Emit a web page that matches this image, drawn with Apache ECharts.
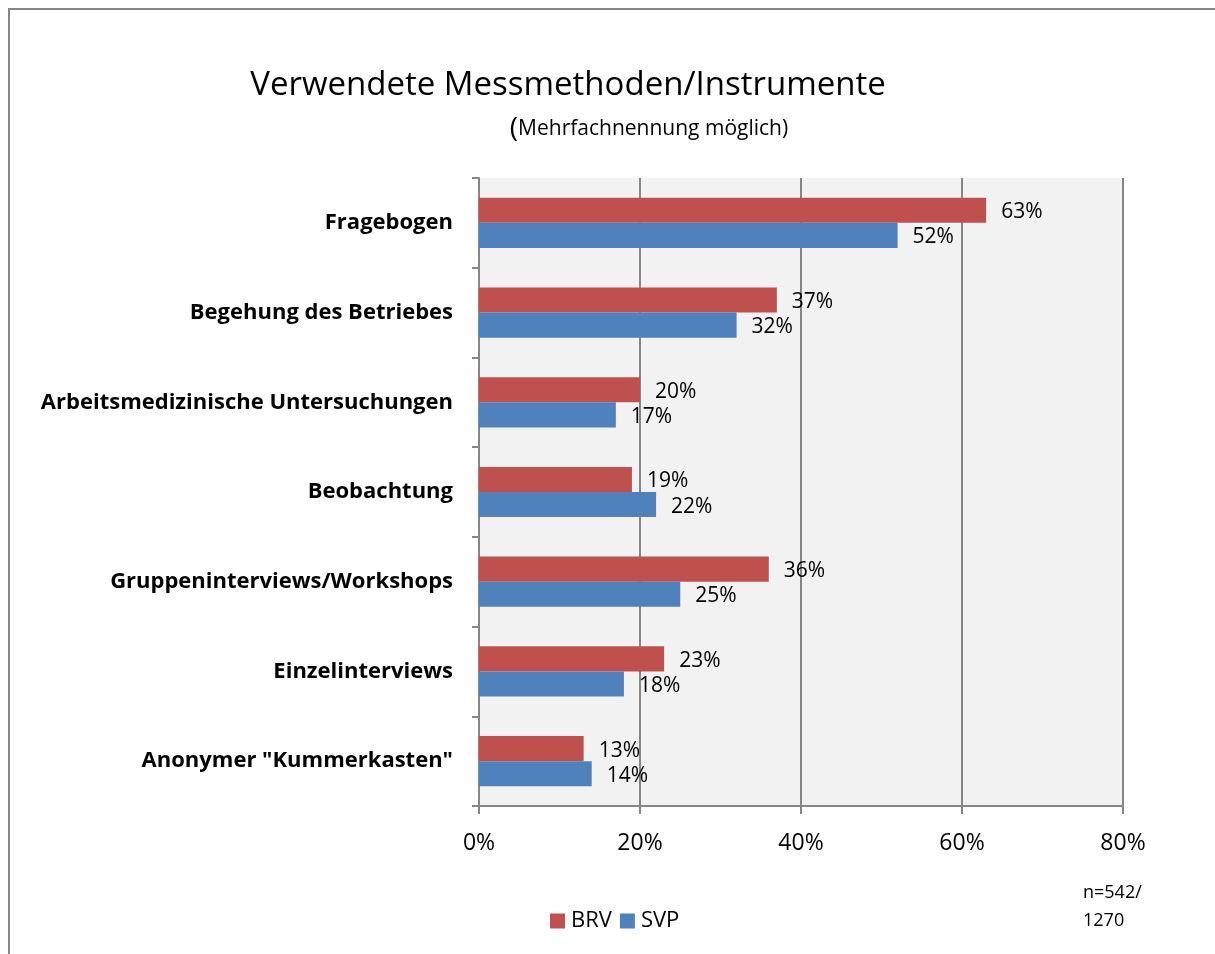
<!DOCTYPE html>
<html>
<head>
<meta charset="utf-8">
<script src="https://cdn.jsdelivr.net/npm/echarts@6/dist/echarts.min.js"></script>
<style>
  html, body { margin: 0; padding: 0; background: #fff; }
  #chart { width: 1215px; height: 954px; }
</style>
</head>
<body>
<div id="chart"></div>
<script>
// Messmethoden, Werte in %
const categories = [
    'Fragebogen',
    'Begehung des Betriebes',
    'Arbeitsmedizinische Untersuchungen',
    'Beobachtung',
    'Gruppeninterviews/Workshops',
    'Einzelinterviews',
    'Anonymer "Kummerkasten"'
];
const brvValues = [63, 37, 20, 19, 36, 23, 13];
const svpValues = [52, 32, 17, 22, 25, 18, 14];
const seriesNames = ['BRV', 'SVP'];

const font = 'Open Sans';
const chart = echarts.init(document.getElementById('chart'));

chart.setOption({
    animation: false,
    textStyle: { fontFamily: font },
    title: [
        {
            text: 'Verwendete Messmethoden/Instrumente',
            left: 563,
            textAlign: 'center',
            top: 64,
            textStyle: { fontSize: 33, fontWeight: 'normal', color: '#000', fontFamily: font }
        },
        {
            text: '{p|(}Mehrfachnennung möglich)',
            left: 644,
            textAlign: 'center',
            top: 110,
            textStyle: {
                fontSize: 21, fontWeight: 'normal', color: '#000', fontFamily: font,
                rich: { p: { fontSize: 28, fontFamily: font, color: '#000' } }
            }
        }
    ],
    legend: {
        data: seriesNames,
        left: 545,
        top: 905,
        itemWidth: 15,
        itemHeight: 15,
        itemGap: 8,
        icon: 'rect',
        textStyle: { fontSize: 22, color: '#000', padding: [0, 0, 0, 1] }
    },
    grid: {
        left: 479,
        right: 92,
        top: 178,
        bottom: 148,
        show: true,
        backgroundColor: '#F2F2F2',
        borderWidth: 0
    },
    xAxis: {
        type: 'value',
        min: 0,
        max: 80,
        interval: 20,
        axisLine: { show: true, lineStyle: { color: '#868686', width: 2 } },
        axisTick: { show: true, length: 8, lineStyle: { color: '#868686', width: 2 } },
        axisLabel: { formatter: '{value}%', fontSize: 23, color: '#000', margin: 26 },
        splitLine: { show: true, lineStyle: { color: '#868686', width: 2 } }
    },
    yAxis: {
        type: 'category',
        data: categories,
        inverse: true,
        axisLine: { show: true, lineStyle: { color: '#868686', width: 2 } },
        axisTick: { show: true, length: 7, lineStyle: { color: '#868686', width: 2 } },
        axisLabel: { fontSize: 22, fontWeight: 'bold', color: '#000', margin: 26 }
    },
    series: [
        {
            name: seriesNames[0],
            type: 'bar',
            data: brvValues,
            barGap: '0%',
            barCategoryGap: '44%',
            itemStyle: { color: '#C0504D' },
            label: { show: true, position: 'right', distance: 15, offset: [0, 2], formatter: '{c}%', fontSize: 21, color: '#000' }
        },
        {
            name: seriesNames[1],
            type: 'bar',
            data: svpValues,
            barGap: '0%',
            barCategoryGap: '44%',
            itemStyle: { color: '#4F81BD' },
            label: { show: true, position: 'right', distance: 15, offset: [0, 2], formatter: '{c}%', fontSize: 21, color: '#000' }
        }
    ],
    graphic: [
        {
            type: 'rect',
            shape: { x: 9, y: 9, width: 1300, height: 1100 },
            style: { fill: 'none', stroke: '#868686', lineWidth: 2 },
            silent: true
        },
        {
            type: 'text',
            left: 1083,
            top: 879,
            style: { text: 'n=542/\n1270', fontSize: 18, lineHeight: 28, fill: '#000', fontFamily: font }
        }
    ]
});
</script>
</body>
</html>
